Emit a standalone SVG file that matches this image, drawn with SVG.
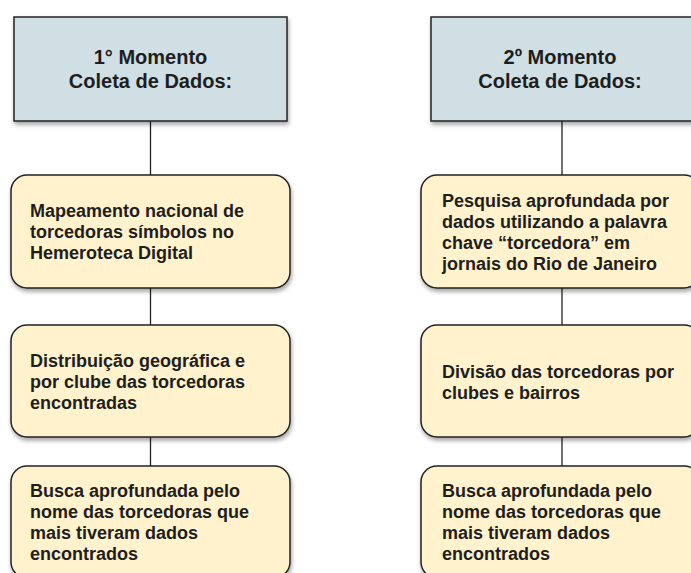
<svg xmlns="http://www.w3.org/2000/svg" width="691" height="573" viewBox="0 0 691 573">
<style>
  .hdr { fill: #d0dfe3; stroke: #222; stroke-width: 1.5; filter: url(#sh); }
  .box { fill: #fff2cc; stroke: #222; stroke-width: 1.5; filter: url(#sh); }
  .ht { font-family: "Liberation Sans", Arial, sans-serif; font-weight: bold; font-size: 20px; fill: #1e1e1e; text-anchor: middle; }
  .bt { font-family: "Liberation Sans", Arial, sans-serif; font-weight: bold; font-size: 18px; fill: #1e1e1e; }
  .conn line { stroke: #222; stroke-width: 1.3; }
</style>
<defs>
  <filter id="sh" x="-10%" y="-10%" width="125%" height="130%">
    <feDropShadow dx="1" dy="3" stdDeviation="2" flood-color="#000" flood-opacity="0.35"/>
  </filter>
</defs>
<rect width="691" height="573" fill="#ffffff"/>
<g class="conn" id="connectors">
  <line x1="150.5" y1="121" x2="150.5" y2="175"/>
  <line x1="150.5" y1="288" x2="150.5" y2="325"/>
  <line x1="150.5" y1="437" x2="150.5" y2="466"/>
  <line x1="562" y1="121" x2="562" y2="175"/>
  <line x1="562" y1="288" x2="562" y2="325"/>
  <line x1="562" y1="437" x2="562" y2="466"/>
</g>
<g id="h1">
  <rect class="hdr" x="14" y="17" width="273" height="104"/>
  <text class="ht" x="150.5" y="64">1° Momento</text>
  <text class="ht" x="150.5" y="88">Coleta de Dados:</text>
</g>
<g id="h2">
  <rect class="hdr" x="431" y="17" width="273" height="104"/>
  <text class="ht" x="560" y="64">2º Momento</text>
  <text class="ht" x="560" y="88">Coleta de Dados:</text>
</g>
<g id="l1">
  <rect class="box" x="11" y="175" width="279" height="113" rx="16"/>
  <text class="bt" x="30" y="217">Mapeamento nacional de</text>
  <text class="bt" x="30" y="238">torcedoras símbolos no</text>
  <text class="bt" x="30" y="259">Hemeroteca Digital</text>
</g>
<g id="l2">
  <rect class="box" x="11" y="325" width="279" height="112" rx="16"/>
  <text class="bt" x="30" y="367">Distribuição geográfica e</text>
  <text class="bt" x="30" y="388">por clube das torcedoras</text>
  <text class="bt" x="30" y="409">encontradas</text>
</g>
<g id="l3">
  <rect class="box" x="11" y="466" width="279" height="112" rx="16"/>
  <text class="bt" x="30" y="497">Busca aprofundada pelo</text>
  <text class="bt" x="30" y="518">nome das torcedoras que</text>
  <text class="bt" x="30" y="539">mais tiveram dados</text>
  <text class="bt" x="30" y="560">encontrados</text>
</g>
<g id="r1">
  <rect class="box" x="421" y="175" width="279" height="113" rx="16"/>
  <text class="bt" x="442" y="207">Pesquisa aprofundada por</text>
  <text class="bt" x="442" y="228">dados utilizando a palavra</text>
  <text class="bt" x="442" y="249">chave “torcedora” em</text>
  <text class="bt" x="442" y="270">jornais do Rio de Janeiro</text>
</g>
<g id="r2">
  <rect class="box" x="421" y="325" width="279" height="112" rx="16"/>
  <text class="bt" x="442" y="378">Divisão das torcedoras por</text>
  <text class="bt" x="442" y="399">clubes e bairros</text>
</g>
<g id="r3">
  <rect class="box" x="421" y="466" width="279" height="112" rx="16"/>
  <text class="bt" x="442" y="497">Busca aprofundada pelo</text>
  <text class="bt" x="442" y="518">nome das torcedoras que</text>
  <text class="bt" x="442" y="539">mais tiveram dados</text>
  <text class="bt" x="442" y="560">encontrados</text>
</g>
</svg>
